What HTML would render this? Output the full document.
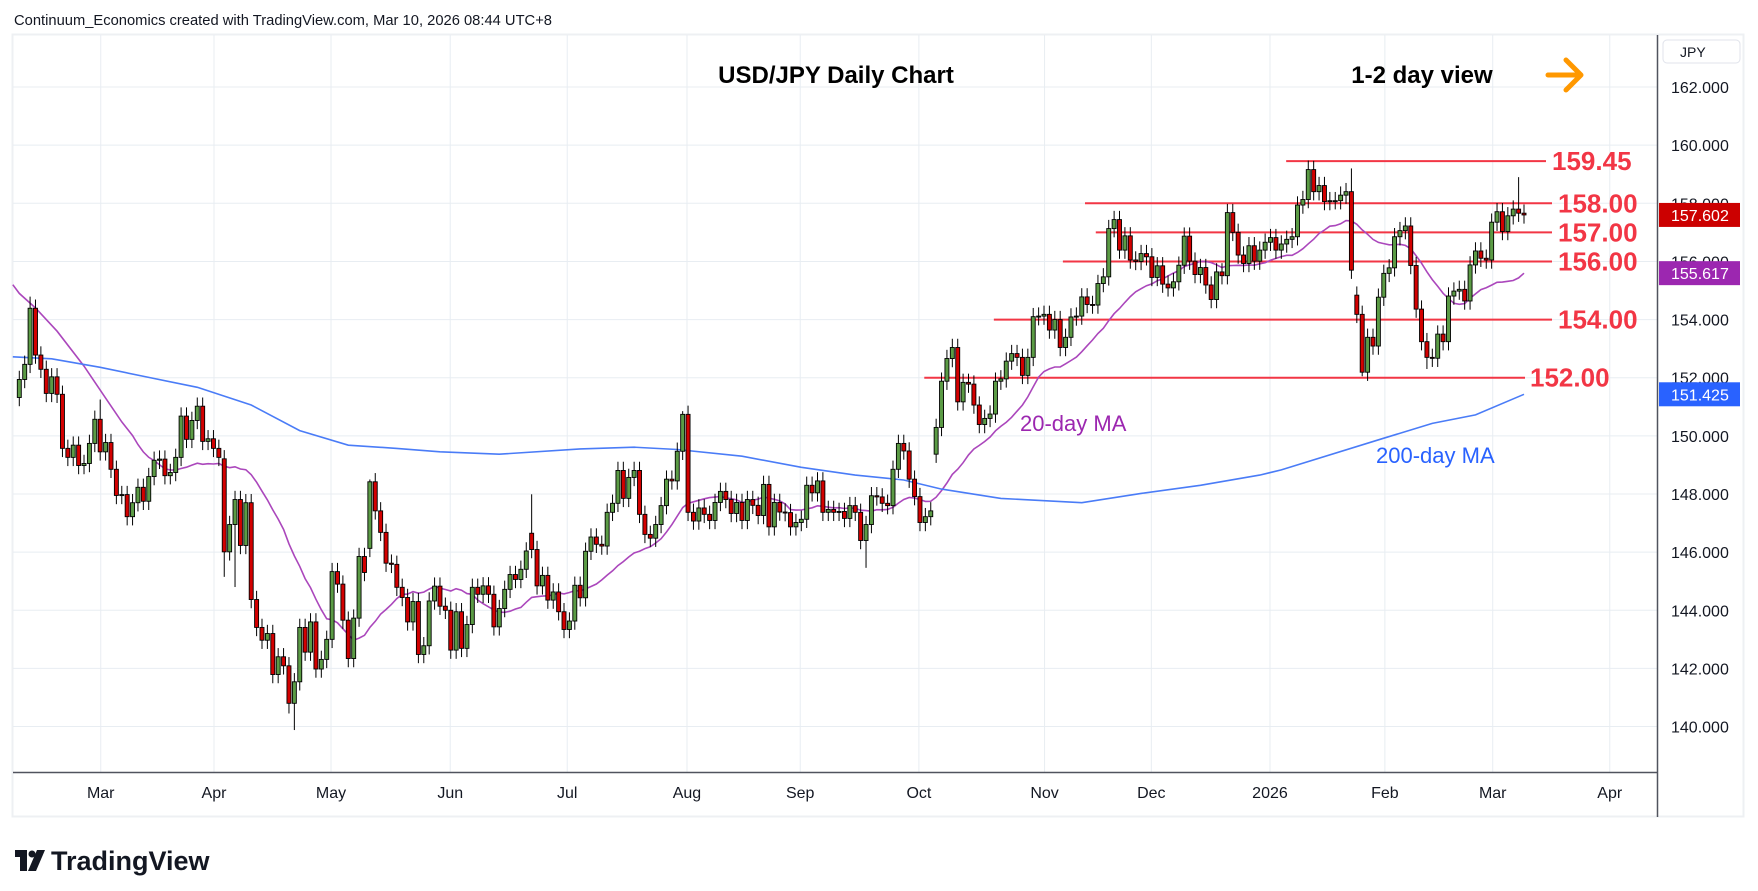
<!DOCTYPE html>
<html><head><meta charset="utf-8"><style>
html,body{margin:0;padding:0;background:#fff;}
body{width:1758px;height:886px;overflow:hidden;font-family:"Liberation Sans",sans-serif;}
svg text{font-family:"Liberation Sans",sans-serif;}
</style></head><body>
<svg id="chart" width="1758" height="886" viewBox="0 0 1758 886" xmlns="http://www.w3.org/2000/svg">
<rect x="0" y="0" width="1758" height="886" fill="#fff"/>
<text x="14" y="25" font-size="14.5" fill="#131722" textLength="538" lengthAdjust="spacingAndGlyphs">Continuum_Economics created with TradingView.com, Mar 10, 2026 08:44 UTC+8</text>
<rect x="12.5" y="34.5" width="1731" height="782" fill="none" stroke="#eef0f3" stroke-width="2"/>
<g id="grid"></g>
<g id="levels"></g>
<g id="mas"></g>
<g id="candles"></g>
<g id="axes"></g>
<text x="836" y="83" font-size="24" font-weight="bold" fill="#000" text-anchor="middle">USD/JPY Daily Chart</text>
<text x="1422" y="83" font-size="24" font-weight="bold" fill="#000" text-anchor="middle">1-2 day view</text>
<g stroke="#ff9800" stroke-width="5" stroke-linecap="round" stroke-linejoin="round" fill="none">
<line x1="1548" y1="75" x2="1580" y2="75"/><polyline points="1566,60 1581,75 1566,90"/></g>
<text x="1020" y="431" font-size="22" fill="#9c27b0">20-day MA</text>
<text x="1376" y="463" font-size="22" fill="#2962ff">200-day MA</text>
<g>
<rect x="15" y="850" width="12" height="7" fill="#131722"/><rect x="20" y="850" width="7" height="21" fill="#131722"/>
<circle cx="32" cy="854" r="3.5" fill="#131722"/><polygon points="37,850 45,850 36,871 28,871" fill="#131722"/>
<text x="51" y="870" font-size="27" font-weight="bold" fill="#131722">TradingView</text></g>
</svg>
<script>
const closes=[151.94,152.46,154.39,152.78,152.29,151.46,152.03,151.43,149.57,149.26,
149.68,148.98,149.05,149.74,150.57,149.45,149.77,148.85,147.95,147.98,
147.22,147.7,148.23,147.75,148.6,149.16,149.2,148.63,148.74,149.26,
150.68,149.88,150.53,151.02,149.81,149.9,149.57,149.26,146.01,146.95,
147.81,146.23,147.7,144.37,143.41,142.97,143.2,141.79,142.4,142.09,
140.8,141.54,143.41,142.56,143.6,141.98,142.31,143.0,145.33,144.9,
143.66,142.34,143.73,145.85,145.3,148.42,147.42,146.68,145.62,145.58,
144.79,144.44,143.6,144.3,142.48,142.78,144.32,144.83,144.14,
144.0,142.63,143.95,142.69,143.51,144.79,144.55,144.84,144.55,143.43,144.06,
144.72,145.23,145.06,145.41,146.04,146.09,144.84,145.2,144.35,144.63,
143.95,143.34,143.63,144.86,144.43,146.03,146.52,146.27,146.21,147.37,
147.68,148.81,147.85,148.57,148.81,147.3,146.61,146.48,146.95,147.6,
148.51,148.45,149.47,150.74,147.37,147.07,147.52,147.3,147.09,147.71,
148.09,147.81,147.33,147.71,147.09,147.81,147.61,147.26,148.33,146.87,
147.71,147.38,147.36,146.87,147.02,147.13,148.3,148.04,148.45,147.37,
147.47,147.37,147.4,147.16,147.6,147.37,146.4,146.95,147.94,147.9,
147.68,147.6,148.85,149.74,149.48,148.51,147.91,147.02,147.22,147.42,
150.29,151.88,152.66,153.04,151.17,151.84,151.78,151.06,150.39,150.6,
150.75,151.88,151.96,152.57,152.83,152.7,152.08,152.7,154.1,154.12,
154.18,153.64,154.0,153.04,153.39,154.09,154.12,154.78,154.52,154.5,
155.24,155.47,157.13,157.44,156.39,156.88,156.05,156.0,156.27,156.16,
155.45,155.85,155.22,155.09,155.3,155.87,156.87,156.01,155.55,155.79,
155.19,154.69,155.64,155.51,157.68,157.0,156.22,155.93,156.54,156.01,
156.39,156.66,156.82,156.39,156.6,156.76,156.85,157.94,158.13,159.16,
158.4,158.61,158.06,158.09,158.09,158.28,158.4,155.7,154.18,152.19,
153.39,153.09,154.77,155.59,155.78,156.85,157.06,157.22,155.86,154.36,
153.24,152.7,152.67,153.5,153.24,154.81,154.98,155.04,154.64,155.88,
156.36,156.11,156.05,157.35,157.71,157.03,157.57,157.8,157.66,157.6];
const firstOpen=151.32;
const gapOpenIdx=[38,65,95,170,248];
const gapOpenVal=[149.21,146.13,146.65,149.37,154.84];
const highIdx=[2,15,65,95,123,239,247,278];
const highVal=[154.79,151.25,148.5,147.99,150.85,159.47,159.2,158.9];
const lowIdx=[38,40,50,51,157,249,261];
const lowVal=[145.15,144.8,140.45,139.88,145.46,152.05,152.3];
const ma20PreIdx=[-1.2,0,3,7,12,16];
const ma20PreVal=[155.2,154.9,154.4,153.6,152.4,151.3];
const ma200Idx=[-1.2,6,15,24,33,43,52,61,70,78,89,104,114,122,134,145,155,164,171,182,197,208,219,230,234,253,262,270,279];
const ma200Val=[152.72,152.65,152.36,152.01,151.67,151.06,150.18,149.68,149.57,149.45,149.37,149.55,149.61,149.53,149.3,148.92,148.65,148.48,148.17,147.85,147.7,148.02,148.3,148.65,148.83,149.92,150.43,150.72,151.43];
const priceTicks=[140,142,144,146,148,150,152,154,156,158,160,162];
const monthLabels=["Mar","Apr","May","Jun","Jul","Aug","Sep","Oct","Nov","Dec","2026","Feb","Mar","Apr"];
const monthIdx=[15.1,36.1,57.8,79.9,101.6,123.8,144.8,166.8,190.1,209.9,231.9,253.2,273.2,294.9];
const levelVals=[159.45,158,157,156,154,152];
const levelText=["159.45","158.00","157.00","156.00","154.00","152.00"];
const levelStartIdx=[234.9,197.6,199.6,193.5,180.7,167.8];

const NS="http://www.w3.org/2000/svg";
const X0=19.3,X1=1524,N=closes.length;
const PLOT_L=13,PLOT_R=1657,PLOT_T=35,PLOT_B=772;
function xS(i){return X0+i*(X1-X0)/(N-1);}
function yS(p){return 203.3+(158-p)*29.07;}
function mk(parent,tag,attrs){const e=document.createElementNS(NS,tag);for(const k in attrs)e.setAttribute(k,attrs[k]);parent.appendChild(e);return e;}

const grid=document.getElementById('grid');
priceTicks.forEach(p=>{
  const l=mk(grid,'line',{x1:PLOT_L,x2:PLOT_R,y1:yS(p),y2:yS(p),stroke:'#e8edf2','stroke-width':1});
  
  
});
monthIdx.forEach(i=>{
  const l=mk(grid,'line',{x1:xS(i),x2:xS(i),y1:PLOT_T,y2:PLOT_B,stroke:'#e8edf2','stroke-width':1});
  
  
});

const lv=document.getElementById('levels');
const levelEnd=[1546,1552,1552,1552,1552,1525];
const labelX=[1552,1558,1558,1558,1558,1530];
levelVals.forEach((v,k)=>{
  const l=mk(lv,'line',{x1:xS(levelStartIdx[k]),x2:levelEnd[k],y1:yS(v),y2:yS(v),stroke:'#f23645','stroke-width':2});
  
  
  const t=mk(lv,'text',{x:labelX[k],y:yS(v)+9,'font-size':26,'font-weight':'bold',fill:'#f23645'});
  t.textContent=levelText[k];
  
  
});

const opens=closes.map((c,i)=>i===0?firstOpen:closes[i-1]);
gapOpenIdx.forEach((i,k)=>opens[i]=gapOpenVal[k]);
const highs=closes.map((c,i)=>Math.max(c,opens[i])+0.3);
const lows=closes.map((c,i)=>Math.min(c,opens[i])-0.3);
highIdx.forEach((i,k)=>highs[i]=highVal[k]);
lowIdx.forEach((i,k)=>lows[i]=lowVal[k]);

const mas=document.getElementById('mas');
let pts=[];
ma20PreIdx.forEach((i,k)=>pts.push(xS(i).toFixed(1)+','+yS(ma20PreVal[k]).toFixed(1)));
let ma20Last=0;
for(let i=19;i<N;i++){let s=0;for(let j=i-19;j<=i;j++)s+=closes[j];const m=s/20;ma20Last=m;pts.push(xS(i).toFixed(1)+','+yS(m).toFixed(1));}
const p20=mk(mas,'polyline',{points:pts.join(' '),fill:'none',stroke:'#ab47bc','stroke-width':1.6});


const p200=mk(mas,'polyline',{points:ma200Idx.map((i,k)=>xS(i).toFixed(1)+','+yS(ma200Val[k]).toFixed(1)).join(' '),fill:'none',stroke:'#4a7cf7','stroke-width':1.6});



const cg=document.getElementById('candles');
for(let i=0;i<N;i++){
  const x=xS(i),o=opens[i],c=closes[i];
  const up=c>=o;
  const g=mk(cg,'g',{});
  
  
  mk(g,'line',{x1:x,x2:x,y1:yS(highs[i]),y2:yS(lows[i]),stroke:'#000','stroke-width':1});
  const top=yS(Math.max(o,c)),bot=yS(Math.min(o,c));
  mk(g,'rect',{x:x-2,y:top,width:4,height:Math.max(1,bot-top),fill:up?'#5b9b45':'#d30000',stroke:'#000','stroke-width':0.9});
}

const ax=document.getElementById('axes');
mk(ax,'line',{x1:PLOT_L,x2:PLOT_R,y1:PLOT_B+0.5,y2:PLOT_B+0.5,stroke:'#50535e','stroke-width':1.5});
mk(ax,'line',{x1:PLOT_R+0.5,x2:PLOT_R+0.5,y1:PLOT_T,y2:817,stroke:'#50535e','stroke-width':1.5});
priceTicks.forEach(p=>{
  const t=mk(ax,'text',{x:1671,y:yS(p)+6,'font-size':16,fill:'#131722'});
  t.textContent=p.toFixed(3);
  
  
});
monthLabels.forEach((m,k)=>{
  const t=mk(ax,'text',{x:xS(monthIdx[k]),y:798,'font-size':16,fill:'#131722','text-anchor':'middle'});
  t.textContent=m;
  
  
});
const jb=mk(ax,'rect',{x:1663,y:40,width:77,height:23,rx:4,fill:'#fff',stroke:'#e0e3eb'});


const jt=mk(ax,'text',{x:1680,y:57,'font-size':14,fill:'#131722'});jt.textContent='JPY';


const tags=[[closes[N-1],'#cc0000','price-tag-last'],[ma20Last,'#9c27b0','price-tag-ma20'],[ma200Val[ma200Val.length-1],'#2962ff','price-tag-ma200']];
const tagText=['157.602','155.617','151.425'];
tags.forEach((tg,k)=>{
  const y=yS(tg[0]);
  const r=mk(ax,'rect',{x:1659,y:y-12,width:81,height:24,fill:tg[1]});
  
  
  const t=mk(ax,'text',{x:1671,y:y+6,'font-size':16,fill:'#fff'});
  t.textContent=tagText[k];
  
  
});
</script>
</body></html>
